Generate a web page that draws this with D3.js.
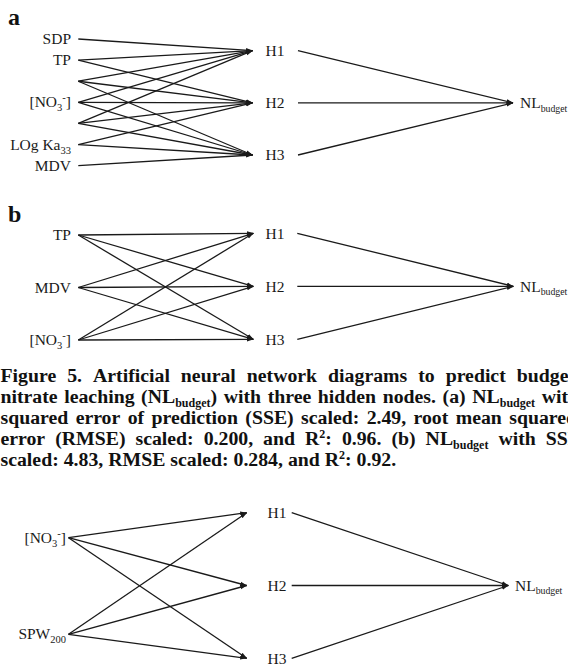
<!DOCTYPE html>
<html><head><meta charset="utf-8">
<script src="https://cdn.jsdelivr.net/npm/d3@7"></script>
<style>
html,body{margin:0;padding:0;background:#fff;}
svg{display:block;}
</style>
</head><body>
<svg id="chart" width="568" height="666"></svg>
<script>
// ---------- data ----------
const hiddenNodes = ["H1", "H2", "H3"];
const outputNode = "NL_{budget}";

const panelAInputs = ["SDP", "TP", "", "[NO_{3}^{-}]", "", "LOg Ka_{33}", "MDV"];
const panelALinks = [[0,0],[1,0],[1,1],[2,0],[2,1],[2,2],[3,0],[3,1],[3,2],[4,0],[4,1],[4,2],[5,1],[5,2],[6,2]];

const panelBInputs = ["TP", "MDV", "[NO_{3}^{-}]"];
const panelBLinks = [[0,0],[0,1],[0,2],[1,0],[1,1],[1,2],[2,0],[2,1],[2,2]];

const panelCInputs = ["[NO_{3}^{-}]", "SPW_{200}"];
const panelCLinks = [[0,0],[0,1],[0,2],[1,0],[1,1],[1,2]];

const captionLines = [
  "Figure 5. Artificial neural network diagrams to predict budget",
  "nitrate leaching (NL_{budget}) with three hidden nodes. (a) NL_{budget} with",
  "squared error of prediction (SSE) scaled: 2.49, root mean squared",
  "error (RMSE) scaled: 0.200, and R^{2}: 0.96. (b) NL_{budget} with SSE",
  "scaled: 4.83, RMSE scaled: 0.284, and R^{2}: 0.92."
];

// ---------- layout ----------
const svg = d3.select("#chart");
const serif = "'Liberation Serif','Times New Roman',Times,serif";
const ink = "#1a1a1a";

svg.append("defs").append("marker")
  .attr("id", "tip").attr("markerUnits", "userSpaceOnUse")
  .attr("viewBox", "0 -3 7 6").attr("refX", 6.5).attr("refY", 0)
  .attr("markerWidth", 7).attr("markerHeight", 6).attr("orient", "auto")
  .append("path").attr("d", "M0,-2.2L7,0L0,2.2Z").attr("fill", ink);

function parseRich(str) {
  const parts = str.split(/(_\{[^}]*\}|\^\{[^}]*\})/).filter(s => s.length);
  return parts.map(p => {
    if (p.startsWith("_{")) return {t: p.slice(2, -1), k: "sub"};
    if (p.startsWith("^{")) return {t: p.slice(2, -1), k: "sup"};
    return {t: p, k: ""};
  });
}

function richText(sel, str, size, subSize, subDy, supDy) {
  const segs = parseRich(str);
  let shift = 0;
  segs.forEach(s => {
    const target = s.k === "sub" ? subDy : s.k === "sup" ? -supDy : 0;
    const ts = sel.append("tspan").text(s.t)
      .attr("font-size", s.k ? subSize : size);
    if (target - shift !== 0) ts.attr("dy", target - shift);
    shift = target;
  });
  return sel;
}

const panels = [
  {inputs: panelAInputs, links: panelALinks, xIn: 78.3, labelEnd: 71, xHid: 252.5, hLabel: 265.5,
   outStart: 298, xOut: 513, nlX: 520, yIn: [39, 165.7], yHid: [50.7, 155], letter: "a", letterY: 25},
  {inputs: panelBInputs, links: panelBLinks, xIn: 78.3, labelEnd: 71, xHid: 253.3, hLabel: 265.5,
   outStart: 297.3, xOut: 513.3, nlX: 520, yIn: [235, 340], yHid: [233.3, 339.3], letter: "b", letterY: 221.7},
  {inputs: panelCInputs, links: panelCLinks, xIn: 68.5, labelEnd: 66, xHid: 246.7, hLabel: 267.5,
   outStart: 291.7, xOut: 508.3, nlX: 515, yIn: [537.7, 634.3], yHid: [512.7, 658.3], letter: null}
];

panels.forEach(p => {
  const g = svg.append("g");
  const yIn = d3.scalePoint().domain(d3.range(p.inputs.length)).range(p.yIn);
  const yHid = d3.scalePoint().domain(hiddenNodes).range(p.yHid);
  const yOut = (p.yHid[0] + p.yHid[1]) / 2;

  g.selectAll("line.ih").data(p.links).join("line")
    .attr("class", "ih")
    .attr("x1", p.xIn).attr("y1", d => yIn(d[0]))
    .attr("x2", p.xHid).attr("y2", d => yHid(hiddenNodes[d[1]]))
    .attr("stroke", ink).attr("stroke-width", 1.3)
    .attr("marker-end", "url(#tip)");

  g.selectAll("line.ho").data(hiddenNodes).join("line")
    .attr("class", "ho")
    .attr("x1", p.outStart).attr("y1", d => yHid(d))
    .attr("x2", p.xOut).attr("y2", yOut)
    .attr("stroke", ink).attr("stroke-width", 1.3)
    .attr("marker-end", "url(#tip)");

  p.inputs.forEach((name, i) => {
    if (!name) return;
    const t = g.append("text").attr("x", p.labelEnd).attr("y", yIn(i) + 5)
      .attr("text-anchor", "end").attr("font-family", serif).attr("fill", ink);
    richText(t, name, 15.5, 10.5, 4, 6);
  });

  g.selectAll("text.hl").data(hiddenNodes).join("text")
    .attr("class", "hl")
    .attr("x", p.hLabel).attr("y", d => yHid(d) + 5.3)
    .attr("font-family", serif).attr("font-size", 15.5).attr("fill", ink)
    .text(d => d);

  const ot = g.append("text").attr("x", p.nlX).attr("y", yOut + 5.3)
    .attr("font-family", serif).attr("fill", ink);
  richText(ot, outputNode, 15.5, 9.8, 3.5, 6);

  if (p.letter) {
    svg.append("text").attr("x", 8).attr("y", p.letterY)
      .attr("font-family", serif).attr("font-weight", "bold").attr("font-size", 24)
      .attr("fill", "#111").text(p.letter);
  }
});

// ---------- caption ----------
const capSize = 19.8, capSub = 12;
const capBaselines = [382, 403, 424, 445, 466];
const capRight = [575, 579, 577, 581, null];
const capG = svg.append("g").attr("font-family", serif).attr("font-weight", "bold").attr("fill", "#111");

captionLines.forEach((line, li) => {
  const words = line.split(" ");
  const nodes = words.map(w => {
    const t = capG.append("text").attr("x", 0).attr("y", capBaselines[li]);
    richText(t, w, capSize, capSub, 3.5, 7);
    return t;
  });
  const widths = nodes.map(n => n.node().getComputedTextLength());
  const total = d3.sum(widths);
  const x0 = 0.5;
  let gap = capSize * 0.25;
  if (capRight[li] != null && words.length > 1) gap = (capRight[li] - x0 - total) / (words.length - 1);
  let x = x0;
  nodes.forEach((n, i) => { n.attr("x", x); x += widths[i] + gap; });
});
</script>
</body></html>
